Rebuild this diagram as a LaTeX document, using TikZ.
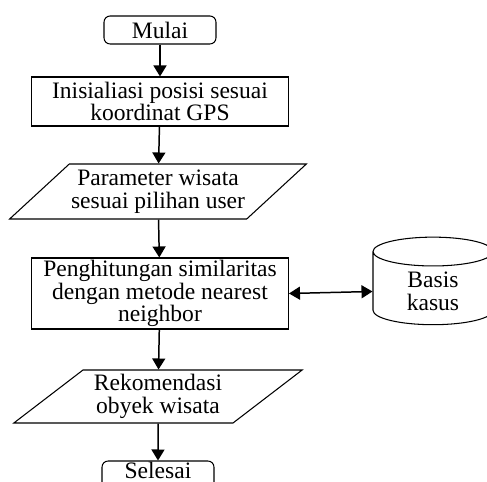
\documentclass[tikz,border=0pt]{standalone}
\usepackage{fontspec}
\setmainfont{Liberation Serif}
\usetikzlibrary{shapes.geometric,arrows.meta,positioning}

\begin{document}
\begin{tikzpicture}[x=0.02cm, y=-0.02cm,
    font=\fontsize{13.4}{12.8}\selectfont, every node/.style={align=center},
    terminal/.style={draw, line width=0.6pt, rounded corners=3.5pt,
                     minimum width=2.24cm, minimum height=0.56cm, inner sep=1pt},
    proses/.style={draw, line width=0.6pt, minimum width=5.14cm, inner sep=1pt},
    datain/.style={draw, line width=0.6pt, trapezium, trapezium left angle=38,
                   trapezium right angle=142, trapezium stretches=true,
                   minimum width=5.78cm, inner sep=1pt},
    alur/.style={-{Triangle[length=0.22cm, width=0.26cm]}, line width=0.85pt}]
  \useasboundingbox (0,0) rectangle (487,482);
  % flowchart
  \node[terminal] (mulai) at (160,30) {Mulai};
  \node[proses, minimum height=0.98cm] (init) at (160,101.5)
    {Inisialiasi posisi sesuai\\koordinat GPS};
  \node[datain, minimum height=1.1cm] (param) at (158,191.5)
    {Parameter wisata\\sesuai pilihan user};
  \node[proses, minimum height=1.42cm] (hitung) at (160,293.5)
    {Penghitungan similaritas\\dengan metode nearest\\neighbor};
  \node[draw, line width=0.6pt, cylinder, shape border rotate=90, aspect=0.45,
        minimum width=2.4cm, minimum height=1.74cm] (basis) at (433,291.5)
    {Basis\\kasus};
  \node[datain, minimum height=1.06cm] (rekom) at (158,396.5)
    {Rekomendasi\\obyek wisata};
  \node[terminal, anchor=north, inner ysep=1pt, text height=0.32cm, text depth=0.3cm]
    (selesai) at (158,460.5) {Selesai};
  \draw[alur] (mulai) -- (init);
  \draw[alur] (init) -- (param);
  \draw[alur] (param) -- (hitung);
  \draw[alur] (hitung) -- (rekom);
  \draw[alur] (rekom) -- (selesai);
  \draw[alur, {Triangle[length=0.22cm, width=0.26cm]}-{Triangle[length=0.22cm, width=0.26cm]}]
    (hitung.east) -- (basis.west);
\end{tikzpicture}
\end{document}
